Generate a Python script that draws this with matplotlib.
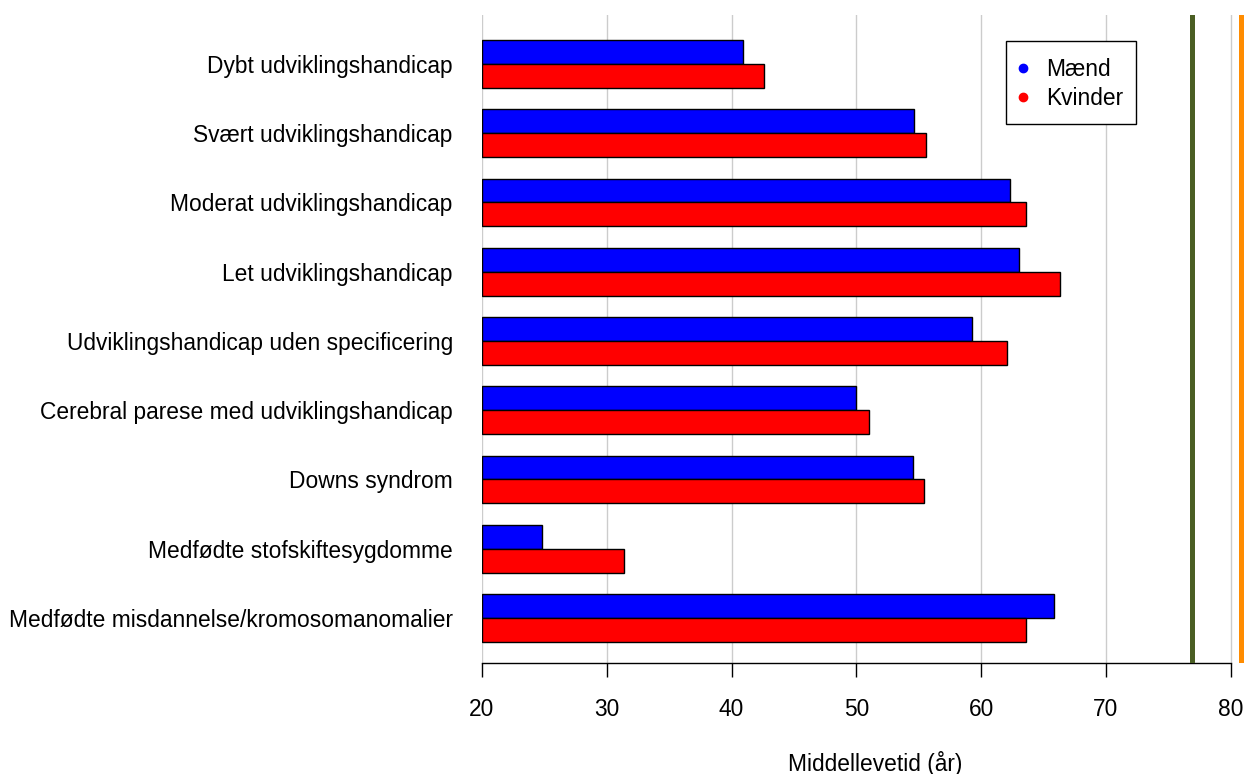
#Import Libraries
import matplotlib
matplotlib.use("Agg")
import matplotlib.pyplot as plt
from matplotlib.lines import Line2D
from matplotlib.patches import Rectangle
import numpy as np

plt.rcParams['font.family'] = ['Liberation Sans', 'DejaVu Sans']

#Data
categories = [
    "Dybt udviklingshandicap",
    "Svært udviklingshandicap",
    "Moderat udviklingshandicap",
    "Let udviklingshandicap",
    "Udviklingshandicap uden specificering",
    "Cerebral parese med udviklingshandicap",
    "Downs syndrom",
    "Medfødte stofskiftesygdomme",
    "Medfødte misdannelse/kromosomanomalier",
]
maend = [40.9, 54.6, 62.3, 63.0, 59.3, 50.0, 54.5, 24.8, 65.8]
kvinder = [42.6, 55.6, 63.6, 66.3, 62.1, 51.0, 55.4, 31.4, 63.6]
ref_maend = 76.9    #reference line, dark green
ref_kvinder = 80.8  #reference line, orange
xticks = [20, 30, 40, 50, 60, 70, 80]

W, H = 1245, 774
fs = 16.4
fig = plt.figure(figsize=(W/100, H/100), dpi=100)
ax = fig.add_axes([482/W, (H-663)/H, (W-482)/W, (663-15)/H])

y = np.arange(len(categories))
bh = 0.345
ax.barh(y - bh/2, np.array(maend) - 20, left=20, height=bh, color='#0000ff',
        edgecolor='black', linewidth=1.0, zorder=3)
ax.barh(y + bh/2, np.array(kvinder) - 20, left=20, height=bh, color='#ff0000',
        edgecolor='black', linewidth=1.0, zorder=3)

#Grid and reference lines
for t in xticks:
    ax.axvline(t, color='#cccccc', linewidth=1.0, zorder=1)
ax.axvline(ref_maend, color='#4a5e23', linewidth=3.6, zorder=4)
ax.axvline(ref_kvinder, color='#ff8c00', linewidth=3.6, zorder=4)

ax.set_xlim(20, 20 + (W-482)/12.48)
ax.set_ylim(8.65, -0.707)

ax.set_xticks(xticks)
ax.set_yticks(y)
ax.set_yticklabels(categories)
ax.tick_params(axis='y', length=0, pad=21, labelsize=fs)
ax.tick_params(axis='x', length=10, width=1.0, direction='out', pad=15, labelsize=fs)

for s in ['top', 'right', 'left']:
    ax.spines[s].set_visible(False)
ax.spines['bottom'].set_bounds(20, 80)
ax.spines['bottom'].set_linewidth(1.0)

fig.text(875/W, (H-763)/H, "Middellevetid (år)", ha='center', va='center', fontsize=fs)

#Legend (frame drawn separately for the uneven padding)
fig.patches.append(Rectangle((1006/W, (H-124)/H), 130/W, 83/H, transform=fig.transFigure,
                             facecolor='white', edgecolor='black', linewidth=1.0, zorder=5))
handles = [Line2D([], [], marker='o', color='#0000ff', linestyle='none', markersize=6),
           Line2D([], [], marker='o', color='#ff0000', linestyle='none', markersize=6)]
leg = fig.legend(handles, ["Mænd", "Kvinder"], loc='center left',
                 bbox_to_anchor=(1012/W, (H-84)/H), fontsize=fs, frameon=False,
                 handletextpad=0.5, labelspacing=0.28, handlelength=1.0,
                 borderpad=0, borderaxespad=0)
leg.set_zorder(6)

fig.savefig("out.png", dpi=100)
